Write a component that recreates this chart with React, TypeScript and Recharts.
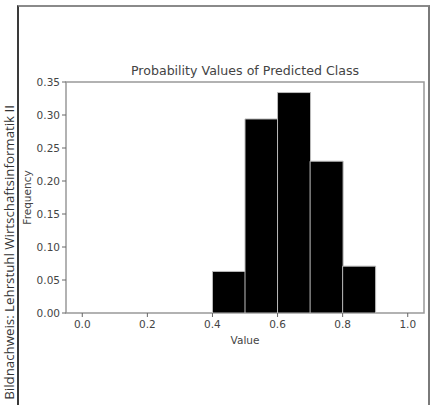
import { BarChart, Bar, XAxis, YAxis, ReferenceArea } from "recharts"

// histogram bins (width 0.1), bin centres and relative frequency
const binMids = [0.05, 0.15, 0.25, 0.35, 0.45, 0.55, 0.65, 0.75, 0.85, 0.95]
const frequencies = [0, 0, 0, 0, 0.063, 0.294, 0.334, 0.23, 0.071, 0]

const xTicks = [0, 0.2, 0.4, 0.6, 0.8, 1.0]
const yTicks = [0, 0.05, 0.1, 0.15, 0.2, 0.25, 0.3, 0.35]

const title = "Probability Values of Predicted Class"
const caption = "Bildnachweis: Lehrstuhl Wirtschaftsinformatik II"

const data = binMids.map((mid, i) => ({ mid, freq: frequencies[i] }))

const FONT = "'DejaVu Sans', sans-serif"
const TEXT = "#444"
const tickStyle = { fill: TEXT, fontSize: 10.5, fontFamily: FONT }

export default function App() {
  return (
    <div
      style={{
        position: "absolute",
        left: 0,
        top: 0,
        width: 433,
        height: 405,
        overflow: "hidden",
        background: "#fff",
      }}
    >
      {/* outer frame, bottom runs off the page */}
      <div
        style={{
          position: "absolute",
          left: 17,
          top: 5,
          width: 409,
          height: 420,
          borderLeft: "2px solid #3a3a3a",
          borderTop: "2px solid #8a8a8a",
          borderRight: "2px solid #7a7a7a",
        }}
      />

      {/* side caption */}
      <svg
        width={17}
        height={405}
        style={{ position: "absolute", left: 0, top: 0, overflow: "visible" }}
      >
        <text
          transform="translate(13.5, 105) rotate(-90)"
          textAnchor="end"
          fill="#333"
          fontSize={13.3}
          fontFamily="'Open Sans', sans-serif"
        >
          {caption}
        </text>
      </svg>

      <div
        style={{
          position: "absolute",
          left: 66,
          width: 358,
          top: 63,
          textAlign: "center",
          fontFamily: FONT,
          fontSize: 12.6,
          color: TEXT,
          whiteSpace: "nowrap",
        }}
      >
        {title}
      </div>

      <div style={{ position: "absolute", left: 0, top: 0 }}>
        <BarChart
          width={433}
          height={405}
          data={data}
          margin={{ top: 82, right: 9, bottom: 61, left: 0 }}
          barCategoryGap={0}
          barGap={0}
        >
          <XAxis
            dataKey="mid"
            type="number"
            domain={[-0.05, 1.05]}
            ticks={xTicks}
            tickFormatter={(v) => Number(v).toFixed(1)}
            tick={tickStyle}
            tickSize={4}
            tickMargin={4}
            tickLine={{ stroke: "#666" }}
            axisLine={false}
            height={31}
            label={{
              value: "Value",
              position: "insideBottom",
              offset: 0,
              fill: TEXT,
              fontSize: 10.5,
              fontFamily: FONT,
            }}
          />
          <YAxis
            type="number"
            domain={[0, 0.35]}
            ticks={yTicks}
            tickFormatter={(v) => Number(v).toFixed(2)}
            tick={tickStyle}
            tickSize={4}
            tickMargin={2}
            tickLine={{ stroke: "#666" }}
            axisLine={false}
            width={66}
            label={{
              value: "Frequency",
              angle: -90,
              position: "insideLeft",
              offset: 27,
              fill: TEXT,
              fontSize: 10.5,
              fontFamily: FONT,
              style: { textAnchor: "middle" },
            }}
          />
          <Bar
            dataKey="freq"
            fill="#000"
            stroke="#bbb"
            strokeWidth={1}
            isAnimationActive={false}
          />
          <ReferenceArea
            x1={-0.05}
            x2={1.05}
            y1={0}
            y2={0.35}
            fill="none"
            fillOpacity={0}
            stroke="#999"
            strokeWidth={1.5}
          />
        </BarChart>
      </div>
    </div>
  )
}
